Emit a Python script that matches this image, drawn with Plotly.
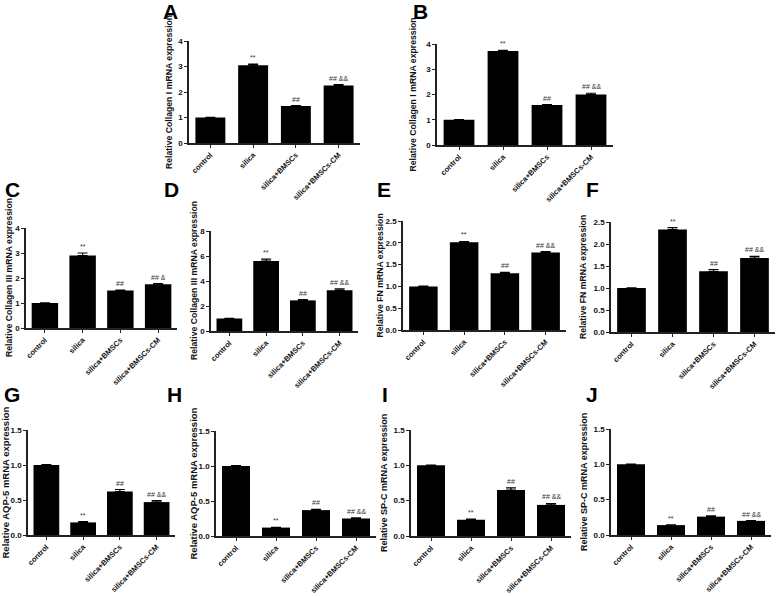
import plotly.graph_objects as go

W, H = 778, 596
FONT = "Liberation Sans, Arial, sans-serif"

categories = ["control", "silica", "silica+BMSCs", "silica+BMSCs-CM"]

# relative mRNA expression (mean) and upward error (SEM) per panel
collagen1_a = [1.0, 3.05, 1.45, 2.25]
collagen1_a_err = [0.01, 0.04, 0.02, 0.04]
collagen1_b = [1.0, 3.72, 1.58, 2.0]
collagen1_b_err = [0.01, 0.03, 0.02, 0.05]
collagen3_c = [1.0, 2.9, 1.5, 1.75]
collagen3_c_err = [0.01, 0.1, 0.02, 0.03]
collagen3_d = [1.0, 5.6, 2.45, 3.25]
collagen3_d_err = [0.02, 0.15, 0.07, 0.12]
fn_e = [1.0, 2.01, 1.3, 1.78]
fn_e_err = [0.005, 0.02, 0.02, 0.02]
fn_f = [1.0, 2.33, 1.38, 1.68]
fn_f_err = [0.005, 0.04, 0.04, 0.04]
aqp5_g = [1.0, 0.18, 0.62, 0.47]
aqp5_g_err = [0.005, 0.01, 0.03, 0.02]
aqp5_h = [1.0, 0.12, 0.37, 0.25]
aqp5_h_err = [0.005, 0.005, 0.01, 0.01]
spc_i = [1.0, 0.23, 0.65, 0.44]
spc_i_err = [0.005, 0.01, 0.03, 0.02]
spc_j = [1.0, 0.14, 0.26, 0.2]
spc_j_err = [0.005, 0.005, 0.01, 0.005]

marks = ["", "**", "##", "## &&"]
marks_c = ["", "**", "##", "## &"]

panels = [
    ("A", "Relative Collagen I mRNA expression", collagen1_a, collagen1_a_err, marks),
    ("B", "Relative Collagen I mRNA expression", collagen1_b, collagen1_b_err, marks),
    ("C", "Relative Collagen III mRNA expression", collagen3_c, collagen3_c_err, marks_c),
    ("D", "Relative Collagen III mRNA expression", collagen3_d, collagen3_d_err, marks),
    ("E", "Relative FN mRNA expression", fn_e, fn_e_err, marks),
    ("F", "Relative FN mRNA expression", fn_f, fn_f_err, marks),
    ("G", "Relative AQP-5 mRNA expression", aqp5_g, aqp5_g_err, marks),
    ("H", "Relative AQP-5 mRNA expression", aqp5_h, aqp5_h_err, marks),
    ("I", "Relative SP-C mRNA expression", spc_i, spc_i_err, marks),
    ("J", "Relative SP-C mRNA expression", spc_j, spc_j_err, marks),
]

# pixel layout: x extent of axis, y extent (top, bottom), y range/ticks,
# y-title centre x and size, panel letter centre
layout_px = {
    "A": dict(x=(189, 360), y=(41, 143), ymax=4, dtick=1, fmt="d", tx=169, ts=8.7, letter=(170, 12)),
    "B": dict(x=(437, 613), y=(44, 145), ymax=4, dtick=1, fmt="d", tx=412, ts=8.7, letter=(421, 12)),
    "C": dict(x=(26, 177), y=(228, 328), ymax=4, dtick=1, fmt="d", tx=9, ts=8.7, letter=(12, 189)),
    "D": dict(x=(211, 358), y=(231, 331), ymax=8, dtick=2, fmt="d", tx=194, ts=8.7, letter=(171, 189)),
    "E": dict(x=(403, 566), y=(221, 330), ymax=2.5, dtick=0.5, fmt=".1f", tx=379, ts=8.7, letter=(384, 189)),
    "F": dict(x=(611, 775), y=(222, 332), ymax=2.5, dtick=0.5, fmt=".1f", tx=583, ts=8.7, letter=(592, 189)),
    "G": dict(x=(28, 175), y=(430, 535), ymax=1.5, dtick=0.5, fmt=".1f", tx=5, ts=9.5, letter=(12, 394)),
    "H": dict(x=(216, 376), y=(431, 536), ymax=1.5, dtick=0.5, fmt=".1f", tx=193, ts=9.5, letter=(174, 394)),
    "I": dict(x=(411, 571), y=(430, 536), ymax=1.5, dtick=0.5, fmt=".1f", tx=384, ts=9, letter=(385, 394)),
    "J": dict(x=(611, 771), y=(429, 535), ymax=1.5, dtick=0.5, fmt=".1f", tx=584, ts=9, letter=(592, 394)),
}

fig = go.Figure()
annotations = []
axes = {}

for i, (letter, ytitle, vals, errs, sig) in enumerate(panels):
    n = "" if i == 0 else str(i + 1)
    p = layout_px[letter]
    fig.add_trace(
        go.Bar(
            x=categories,
            y=vals,
            width=0.7,
            marker=dict(color="black", line=dict(width=0)),
            error_y=dict(
                type="data",
                symmetric=False,
                array=errs,
                arrayminus=[0] * len(errs),
                color="black",
                thickness=1.2,
                width=5,
            ),
            xaxis="x" + n,
            yaxis="y" + n,
            showlegend=False,
        )
    )
    axes["xaxis" + n] = dict(
        domain=[p["x"][0] / W, p["x"][1] / W],
        anchor="y" + n,
        range=[-0.5, 3.5],
        showline=True,
        linecolor="#222",
        linewidth=1.5,
        ticks="outside",
        ticklen=3,
        tickwidth=1.2,
        tickcolor="#222",
        tickangle=-45,
        tickfont=dict(family=FONT, size=7.5, color="#111", weight="bold"),
        showgrid=False,
        zeroline=False,
        automargin=False,
        fixedrange=True,
    )
    axes["yaxis" + n] = dict(
        domain=[1 - p["y"][1] / H, 1 - p["y"][0] / H],
        anchor="x" + n,
        range=[0, p["ymax"]],
        dtick=p["dtick"],
        tick0=0,
        tickformat=p["fmt"],
        showline=True,
        linecolor="#222",
        linewidth=1.5,
        ticks="outside",
        ticklen=3,
        tickwidth=1.2,
        tickcolor="#222",
        tickfont=dict(family=FONT, size=8, color="#111", weight="bold"),
        showgrid=False,
        zeroline=False,
        automargin=False,
        fixedrange=True,
    )

    # y-axis title
    annotations.append(
        dict(
            text=ytitle,
            textangle=-90,
            x=p["tx"] / W,
            y=1 - (p["y"][0] + p["y"][1]) / 2 / H,
            xref="paper",
            yref="paper",
            xanchor="center",
            yanchor="middle",
            showarrow=False,
            font=dict(family=FONT, size=p["ts"], color="#111", weight="bold"),
        )
    )
    # panel letter
    annotations.append(
        dict(
            text=letter,
            x=p["letter"][0] / W,
            y=1 - p["letter"][1] / H,
            xref="paper",
            yref="paper",
            xanchor="center",
            yanchor="middle",
            showarrow=False,
            font=dict(family=FONT, size=21, color="black", weight="bold"),
        )
    )
    # significance marks
    for c, v, e, s in zip(categories, vals, errs, sig):
        if not s:
            continue
        annotations.append(
            dict(
                text=s,
                x=c,
                y=v + e,
                xref="x" + n,
                yref="y" + n,
                xanchor="center",
                yanchor="bottom",
                yshift=1,
                showarrow=False,
                font=dict(family=FONT, size=7, color="#333"),
            )
        )

fig.update_layout(
    width=W,
    height=H,
    margin=dict(l=0, r=0, t=0, b=0),
    paper_bgcolor="white",
    plot_bgcolor="white",
    annotations=annotations,
    bargap=0.3,
    **axes,
)

# drop the default 8px body margin so the figure fills the window exactly
fig.write_html(
    "out.html",
    config={"displayModeBar": False},
    post_script="document.body.style.margin='0';document.body.style.overflow='hidden';",
)
